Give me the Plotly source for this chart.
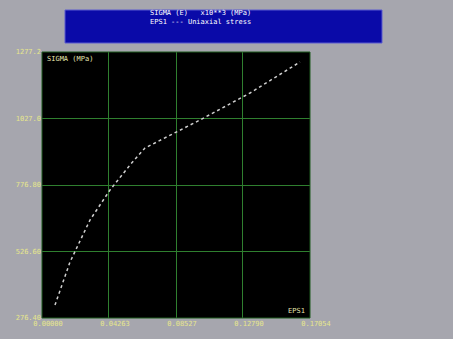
import plotly.graph_objects as go

# data
strain = [0.00827, 0.01782, 0.03054, 0.04327, 0.05600, 0.06554, 0.10054, 0.13236, 0.16418]
stress = [325.3, 487.1, 645.1, 758.0, 852.0, 916.0, 1021.4, 1122.9, 1239.6]

x_ticks = [0.0, 0.04263, 0.08527, 0.12790, 0.17054]
x_labels = ["0.00000", "0.04263", "0.08527", "0.12790", "0.17054"]
y_ticks = [276.4, 526.6, 776.8, 1027.0, 1277.2]
y_labels = ["276.40", "526.60", "776.80", "1027.0", "1277.2"]

title_lines = ["SIGMA (E)   x10**3 (MPa)", "EPS1 --- Uniaxial stress"]
y_name = "SIGMA (MPa)"
x_name = "EPS1"

tick_color = "#e6e68c"
font = "DejaVu Sans Mono"

fig = go.Figure()
fig.add_trace(go.Scatter(
    x=strain, y=stress, mode="lines",
    line=dict(color="#cfcfcf", width=1.5, dash="dot"),
    hoverinfo="skip", showlegend=False,
))

fig.update_layout(
    width=453, height=339,
    paper_bgcolor="#a6a6ae", plot_bgcolor="#000000",
    margin=dict(l=42, r=143, t=52, b=21),
    font=dict(family=font, size=7, color=tick_color),
    xaxis=dict(
        range=[x_ticks[0], x_ticks[-1]], tickvals=x_ticks, ticktext=x_labels,
        showgrid=True, gridcolor="#2f7f2f", gridwidth=1, zeroline=False,
        showline=False, ticks="", ticklabelshift=6,
        tickfont=dict(family=font, size=7, color=tick_color),
    ),
    yaxis=dict(
        range=[y_ticks[0], y_ticks[-1]], tickvals=y_ticks, ticktext=y_labels,
        showgrid=True, gridcolor="#2f7f2f", gridwidth=1, zeroline=False,
        showline=False, ticks="",
        tickfont=dict(family=font, size=7, color=tick_color),
    ),
    shapes=[
        dict(type="rect", xref="paper", yref="paper", x0=0.0, x1=1.0, y0=0.0, y1=1.0,
             line=dict(color="#1f5a1f", width=1)),
        dict(type="rect", xref="paper", yref="paper",
             x0=(65 - 42) / 268, x1=(382 - 42) / 268,
             y0=(318 - 43) / 266, y1=(318 - 10) / 266,
             fillcolor="#0a0aa8", line=dict(color="#5a5ad0", width=1), layer="above"),
    ],
    annotations=[
        dict(xref="paper", yref="paper", x=(200 - 42) / 268, y=(318 - 18) / 266,
             xanchor="center", yanchor="middle",
             text="<br>".join(title_lines), showarrow=False,
             font=dict(family=font, size=7, color="#ffffff"), align="center"),
        dict(xref="paper", yref="paper", x=0.01, y=0.995, xanchor="left", yanchor="top",
             text=y_name, showarrow=False,
             font=dict(family=font, size=7, color="#e6e6b0")),
        dict(xref="paper", yref="paper", x=0.99, y=0.005, xanchor="right", yanchor="bottom",
             text=x_name, showarrow=False,
             font=dict(family=font, size=7, color="#e6e6b0")),
    ],
)

fig.write_html("out.html")
